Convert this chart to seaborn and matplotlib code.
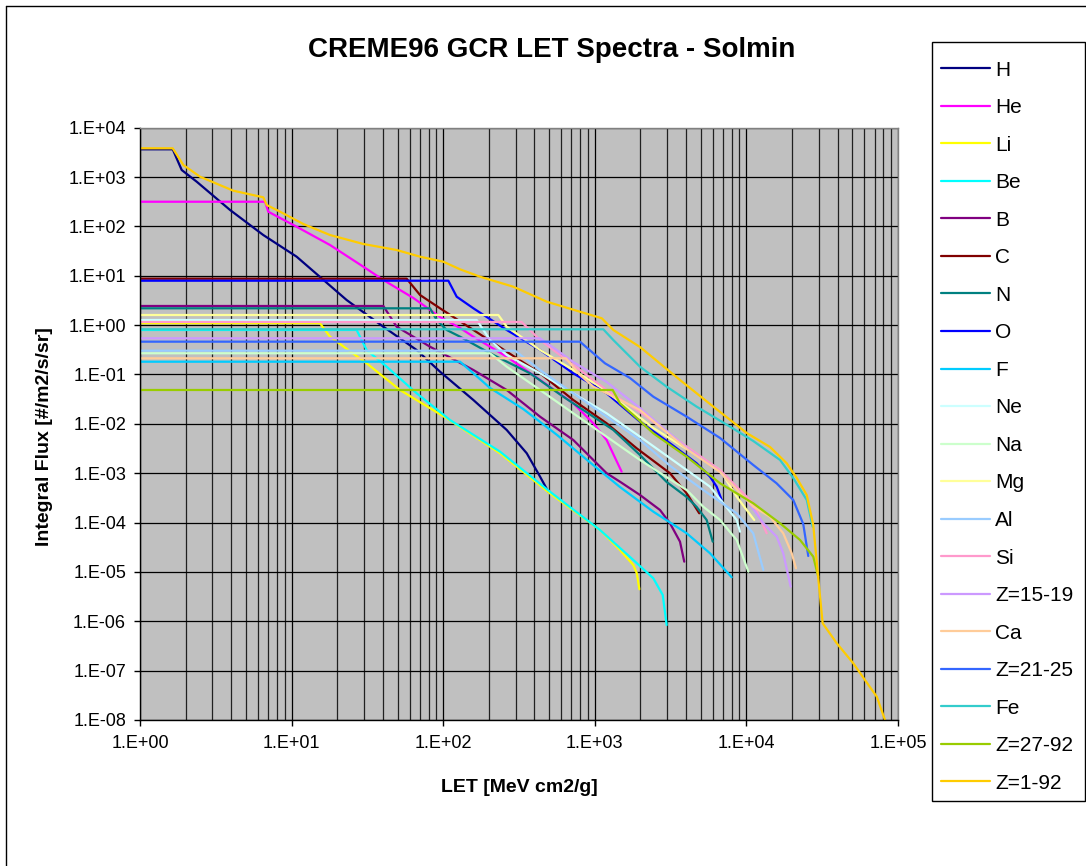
import numpy as np
import pandas as pd
import matplotlib
matplotlib.use("Agg")
import matplotlib.pyplot as plt
import seaborn as sns
from matplotlib.lines import Line2D
from matplotlib.patches import Rectangle
from matplotlib.ticker import LogLocator, FuncFormatter, NullFormatter

# Series names and colours (legend order = drawing order)
species = ["H", "He", "Li", "Be", "B", "C", "N", "O", "F", "Ne", "Na", "Mg",
           "Al", "Si", "Z=15-19", "Ca", "Z=21-25", "Fe", "Z=27-92", "Z=1-92"]
colors = ["#000080", "#FF00FF", "#FFFF00", "#00FFFF", "#800080", "#800000",
          "#008080", "#0000FF", "#00CCFF", "#CCFFFF", "#CCFFCC", "#FFFF99",
          "#99CCFF", "#FF99CC", "#CC99FF", "#FFCC99", "#3366FF", "#33CCCC",
          "#99CC00", "#FFCC00"]

# values, as log10(LET) and log10(flux)
H_x = [0, 0.216, 0.275, 0.374, 0.594, 0.813, 1.033, 1.363, 1.605, 1.825, 1.979, 2.199, 2.419, 2.551, 2.639, 2.693]
H_y = [3.562, 3.562, 3.143, 2.906, 2.333, 1.826, 1.387, 0.509, -0.032, -0.504, -0.943, -1.517, -2.124, -2.596, -3.070, -3.374]

He_x = [0, 0.825, 0.846, 1.033, 1.253, 1.473, 1.605, 1.803, 1.979, 2.111, 2.199, 2.419, 2.639, 2.858, 2.990, 3.078, 3.177]
He_y = [2.50, 2.50, 2.298, 1.994, 1.624, 1.184, 0.915, 0.550, 0.165, -0.058, -0.234, -0.639, -1.111, -1.583, -1.988, -2.327, -2.969]

Li_x = [0, 1.187, 1.253, 1.495, 1.715, 2.023, 2.375, 2.704, 3.034, 3.166, 3.254, 3.277, 3.294]
Li_y = [0.04, 0.04, -0.234, -0.773, -1.314, -1.887, -2.596, -3.407, -4.150, -4.555, -4.859, -5.027, -5.351]

Be_x = [0, 1.429, 1.495, 1.627, 1.825, 2.045, 2.375, 2.704, 3.034, 3.254, 3.386, 3.448, 3.474]
Be_y = [-0.098, -0.098, -0.504, -0.842, -1.381, -1.922, -2.564, -3.374, -4.150, -4.758, -5.129, -5.467, -6.075]

B_x = [0, 1.605, 1.693, 1.913, 2.199, 2.419, 2.639, 2.858, 3.078, 3.166, 3.298, 3.430, 3.496, 3.562, 3.590]
B_y = [0.388, 0.388, -0.032, -0.437, -0.909, -1.314, -1.855, -2.327, -3.000, -3.172, -3.441, -3.745, -4.014, -4.387, -4.792]

C_x = [0, 1.759, 1.847, 1.979, 2.199, 2.419, 2.639, 2.858, 3.078, 3.276, 3.496, 3.606, 3.689]
C_y = [0.941, 0.941, 0.611, 0.341, -0.098, -0.538, -0.976, -1.517, -1.988, -2.495, -3.001, -3.407, -3.812]

N_x = [0, 1.913, 1.957, 2.023, 2.111, 2.309, 2.573, 2.792, 3.122, 3.298, 3.474, 3.606, 3.672, 3.738, 3.778]
N_y = [0.341, 0.341, 0.104, -0.098, -0.234, -0.570, -0.976, -1.450, -2.124, -2.631, -3.178, -3.482, -3.684, -3.948, -4.387]

O_x = [0, 2.034, 2.089, 2.199, 2.419, 2.639, 2.858, 3.078, 3.298, 3.496, 3.672, 3.760, 3.804, 3.837]
O_y = [0.900, 0.900, 0.576, 0.341, -0.098, -0.504, -0.976, -1.381, -1.956, -2.394, -2.799, -3.070, -3.273, -3.542]

F_x = [0, 2.111, 2.199, 2.309, 2.528, 2.749, 2.968, 3.166, 3.386, 3.606, 3.760, 3.903]
F_y = [-0.741, -0.741, -0.976, -1.273, -1.700, -2.220, -2.780, -3.280, -3.779, -4.217, -4.622, -5.108]

Ne_x = [0, 2.221, 2.309, 2.419, 2.639, 2.858, 3.078, 3.298, 3.606, 3.760, 3.848, 3.936, 3.958]
Ne_y = [0.104, 0.104, -0.301, -0.605, -0.976, -1.381, -1.786, -2.260, -2.935, -3.273, -3.609, -3.948, -4.185]

Na_x = [0, 2.309, 2.419, 2.639, 2.858, 3.078, 3.298, 3.606, 3.715, 3.826, 3.936, 4.013]
Na_y = [-0.570, -0.570, -0.842, -1.314, -1.786, -2.260, -2.732, -3.340, -3.678, -3.948, -4.353, -4.995]

Mg_x = [0, 2.364, 2.419, 2.639, 2.858, 3.034, 3.166, 3.386, 3.606, 3.826, 3.936, 4.002, 4.052]
Mg_y = [0.205, 0.205, -0.032, -0.504, -0.909, -1.247, -1.557, -2.084, -2.509, -2.935, -3.476, -3.745, -3.948]

Al_x = [0, 2.474, 2.639, 2.858, 3.078, 3.298, 3.496, 3.715, 3.936, 4.045, 4.112]
Al_y = [-0.518, -0.518, -0.909, -1.381, -1.855, -2.327, -2.850, -3.340, -3.812, -4.217, -4.961]

Si_x = [0, 2.517, 2.639, 2.858, 3.078, 3.298, 3.606, 3.826, 4.045, 4.134]
Si_y = [0.064, 0.064, -0.301, -0.807, -1.314, -1.760, -2.462, -2.935, -3.609, -4.217]

Z15_19_x = [0, 2.639, 2.749, 2.858, 3.078, 3.298, 3.606, 3.826, 4.002, 4.112, 4.200, 4.243, 4.292]
Z15_19_y = [-0.267, -0.267, -0.504, -0.747, -1.152, -1.679, -2.489, -2.975, -3.542, -4.014, -4.286, -4.622, -5.299]

Ca_x = [0, 2.810, 2.902, 2.990, 3.078, 3.298, 3.606, 3.826, 4.045, 4.155, 4.243, 4.299, 4.327]
Ca_y = [-0.672, -0.672, -1.010, -1.247, -1.381, -1.719, -2.509, -2.975, -3.678, -3.881, -4.217, -4.622, -4.926]

Z21_25_x = [0, 2.902, 3.067, 3.232, 3.386, 3.606, 3.826, 4.045, 4.199, 4.309, 4.375, 4.408]
Z21_25_y = [-0.335, -0.335, -0.773, -1.071, -1.450, -1.855, -2.286, -2.833, -3.204, -3.542, -4.029, -4.677]

Fe_x = [0, 3.056, 3.122, 3.298, 3.474, 3.672, 3.892, 4.045, 4.222, 4.309, 4.398, 4.437]
Fe_y = [-0.084, -0.084, -0.301, -0.842, -1.247, -1.652, -2.057, -2.347, -2.732, -3.097, -3.542, -4.083]

Z27_92_x = [0, 3.118, 3.166, 3.254, 3.386, 3.606, 3.826, 4.045, 4.222, 4.354, 4.441, 4.474]
Z27_92_y = [-1.314, -1.314, -1.583, -1.820, -2.191, -2.665, -3.204, -3.609, -4.014, -4.353, -4.691, -5.096]

Z1_92_x = [0, 0.216, 0.286, 0.396, 0.615, 0.813, 0.836, 0.924, 1.077, 1.253, 1.473, 1.693, 1.847, 2.001,
           2.111, 2.243, 2.462, 2.683, 2.902, 3.046, 3.122, 3.298, 3.562, 3.782, 4.002, 4.156, 4.266,
           4.332, 4.398, 4.441, 4.472, 4.503, 4.596, 4.705, 4.782, 4.860, 4.914]
Z1_92_y = [3.583, 3.583, 3.244, 3.007, 2.724, 2.590, 2.434, 2.298, 2.049, 1.826, 1.644, 1.522, 1.387, 1.285,
           1.131, 0.981, 0.779, 0.475, 0.272, 0.139, -0.098, -0.443, -1.111, -1.652, -2.185, -2.469, -2.799,
           -3.097, -3.441, -4.049, -5.062, -6.040, -6.445, -6.851, -7.189, -7.527, -7.999]

series_x = [H_x, He_x, Li_x, Be_x, B_x, C_x, N_x, O_x, F_x, Ne_x, Na_x, Mg_x,
            Al_x, Si_x, Z15_19_x, Ca_x, Z21_25_x, Fe_x, Z27_92_x, Z1_92_x]
series_y = [H_y, He_y, Li_y, Be_y, B_y, C_y, N_y, O_y, F_y, Ne_y, Na_y, Mg_y,
            Al_y, Si_y, Z15_19_y, Ca_y, Z21_25_y, Fe_y, Z27_92_y, Z1_92_y]

frames = []
for name, lx, ly in zip(species, series_x, series_y):
    frames.append(pd.DataFrame({"LET": 10 ** np.array(lx), "flux": 10 ** np.array(ly), "species": name}))
df = pd.concat(frames, ignore_index=True)

sns.set_style("ticks")
plt.rcParams['font.family'] = ['Liberation Sans', 'DejaVu Sans']
plt.rcParams['text.color'] = 'black'
plt.rcParams['xtick.color'] = 'black'
plt.rcParams['ytick.color'] = 'black'

fig = plt.figure(figsize=(10.86, 8.66), dpi=100)
ax = fig.add_axes([140 / 1086, 1 - 720 / 866, 758 / 1086, 592.3 / 866])
ax.set_facecolor("#C0C0C0")

sns.lineplot(data=df, x="LET", y="flux", hue="species", hue_order=species,
             palette=colors, estimator=None, sort=False, linewidth=1.6,
             legend=False, ax=ax)

ax.set_xscale("log")
ax.set_yscale("log")
ax.set_xlim(1, 1e5)
ax.set_ylim(1e-8, 1e4)

fmt = FuncFormatter(lambda v, p: "1.E{:+03d}".format(int(round(np.log10(v)))))
ax.xaxis.set_major_locator(LogLocator(base=10, numticks=20))
ax.yaxis.set_major_locator(LogLocator(base=10, numticks=20))
ax.xaxis.set_minor_locator(LogLocator(base=10, subs=np.arange(2, 10), numticks=50))
ax.yaxis.set_minor_locator(LogLocator(base=10, subs=np.arange(2, 10), numticks=50))
ax.xaxis.set_major_formatter(fmt)
ax.yaxis.set_major_formatter(fmt)
ax.xaxis.set_minor_formatter(NullFormatter())
ax.yaxis.set_minor_formatter(NullFormatter())
ax.tick_params(which="major", direction="out", length=4, width=1, labelsize=13,
               color="black", labelcolor="black")
ax.tick_params(which="minor", length=0)
ax.tick_params(axis="y", pad=6)
ax.tick_params(axis="x", pad=7)

ax.grid(which="major", axis="both", color="black", linewidth=0.9)
ax.grid(which="minor", axis="x", color="#202020", linewidth=0.9)
ax.set_axisbelow(True)
for s in ax.spines.values():
    s.set_color("#808080")
    s.set_linewidth(1)
ax.spines["left"].set_color("black")
ax.spines["bottom"].set_color("black")

ax.set_xlabel("")
ax.set_ylabel("")
fig.text(552 / 1086, 1 - 50 / 866, "CREME96 GCR LET Spectra - Solmin", ha="center", va="center",
         fontsize=20, fontweight="bold", color="black")
fig.text(519 / 1086, 1 - 787 / 866, "LET [MeV cm2/g]", ha="center", va="center",
         fontsize=14, fontweight="bold", color="black")
fig.text(45 / 1086, 1 - 437 / 866, "Integral Flux [#/m2/s/sr]", ha="center", va="center",
         rotation=90, fontsize=14, fontweight="bold", color="black")

# legend box drawn by hand, legend entries placed inside without a frame
fig.add_artist(Rectangle((932 / 1086, 1 - 801 / 866), 153 / 1086, 759 / 866,
                         transform=fig.transFigure, facecolor="white",
                         edgecolor="black", linewidth=1, zorder=1))
handles = [Line2D([0], [0], color=c, linewidth=1.6) for c in colors]
leg = fig.legend(handles, species, loc="upper left",
                 bbox_to_anchor=(941 / 1086, 1 - 60.5 / 866),
                 bbox_transform=fig.transFigure,
                 fontsize=15, frameon=False, handlelength=2.36, handletextpad=0.24,
                 labelspacing=0.89, borderpad=0, borderaxespad=0, labelcolor="black")

# outer chart border (left and top visible)
fig.add_artist(Line2D([6 / 1086, 6 / 1086], [0, 1 - 6 / 866], transform=fig.transFigure, color="black", lw=1))
fig.add_artist(Line2D([6 / 1086, 1], [1 - 6 / 866, 1 - 6 / 866], transform=fig.transFigure, color="black", lw=1))

fig.savefig("out.png", dpi=100)
